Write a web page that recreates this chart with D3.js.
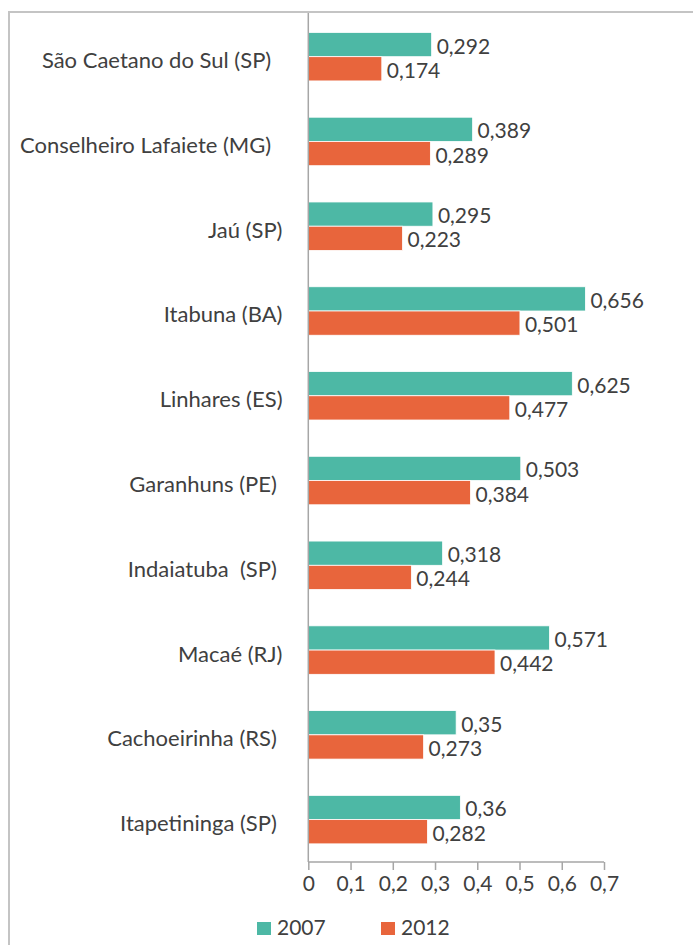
<!DOCTYPE html>
<html>
<head>
<meta charset="utf-8">
<script src="https://cdn.jsdelivr.net/npm/d3@7"></script>
<style>
  html, body { margin: 0; padding: 0; background: #fff; }
  svg { display: block; }
  text { font-family: Lato, "Open Sans", sans-serif; fill: #404040; }
</style>
</head>
<body>
<svg id="chart" width="693" height="945"></svg>
<script>
// ---- data ----
const categories = [
  "São Caetano do Sul (SP)  ",
  "Conselheiro Lafaiete (MG)  ",
  "Jaú (SP)",
  "Itabuna (BA)",
  "Linhares (ES)",
  "Garanhuns (PE) ",
  "Indaiatuba  (SP) ",
  "Macaé (RJ)",
  "Cachoeirinha (RS) ",
  "Itapetininga (SP) "
];
const series = ["2007", "2012"];
const values2007 = [0.292, 0.389, 0.295, 0.656, 0.625, 0.503, 0.318, 0.571, 0.35, 0.36];
const values2012 = [0.174, 0.289, 0.223, 0.501, 0.477, 0.384, 0.244, 0.442, 0.273, 0.282];
const xTicks = [0, 0.1, 0.2, 0.3, 0.4, 0.5, 0.6, 0.7];
const colors = { "2007": "#4db8a5", "2012": "#e8653c" };

const fmt = v => String(v).replace(".", ",");

const svg = d3.select("#chart");

// frame
svg.append("rect")
  .attr("x", 9).attr("y", 12).attr("width", 700).attr("height", 960)
  .attr("fill", "none").attr("stroke", "#c4c4c4").attr("stroke-width", 2);

const plotLeft = 308.3, plotRight = 604, plotTop = 14.3, plotBottom = 862;

const x = d3.scaleLinear().domain([0, 0.7]).range([plotLeft, plotRight]);
const y = d3.scaleBand().domain(categories).range([plotTop, plotBottom]).paddingInner(0.428).paddingOuter(0.214);
const ySub = d3.scaleBand().domain(series).range([0, y.bandwidth()]);

const rows = categories.map((c, i) => ({ cat: c, vals: [
  { s: "2007", v: values2007[i] },
  { s: "2012", v: values2012[i] }
]}));

const g = svg.append("g");
const groups = g.selectAll("g.row").data(rows).join("g")
  .attr("class", "row")
  .attr("transform", d => `translate(0,${y(d.cat)})`);

groups.selectAll("rect").data(d => d.vals).join("rect")
  .attr("x", x(0))
  .attr("y", d => ySub(d.s))
  .attr("width", d => x(d.v) - x(0))
  .attr("height", ySub.bandwidth())
  .attr("fill", d => colors[d.s])
  .attr("stroke", "#ffffff").attr("stroke-width", 0.8);

groups.selectAll("text.val").data(d => d.vals).join("text")
  .attr("class", "val")
  .attr("x", d => x(d.v) + 5)
  .attr("y", d => ySub(d.s) + ySub.bandwidth() / 2 + 9)
  .attr("font-size", 21)
  .text(d => fmt(d.v));

// category labels
g.selectAll("text.cat").data(categories).join("text")
  .attr("class", "cat")
  .attr("x", 282.5)
  .attr("y", d => y(d) + y.bandwidth() / 2 + 11.5)
  .attr("text-anchor", "end")
  .attr("font-size", 22)
  .attr("xml:space", "preserve")
  .style("white-space", "pre")
  .text(d => d);

// vertical category axis line
svg.append("line")
  .attr("x1", x(0)).attr("x2", x(0)).attr("y1", 13).attr("y2", plotBottom)
  .attr("stroke", "#a6a6a6").attr("stroke-width", 1.5);

// x axis
const xAxis = d3.axisBottom(x).tickValues(xTicks).tickSize(8).tickPadding(6)
  .tickFormat(d => d === 0 ? "0" : fmt(+d.toFixed(1)));
const ax = svg.append("g").attr("transform", `translate(0,${plotBottom})`).call(xAxis);
ax.select(".domain").attr("stroke", "#a6a6a6").attr("stroke-width", 1.5)
  .attr("d", `M${plotLeft},0H${plotRight}`);
ax.selectAll(".tick line").attr("stroke", "#a6a6a6").attr("stroke-width", 1.5);
ax.selectAll(".tick text").attr("font-size", 21).attr("fill", "#404040")
  .attr("font-family", "Lato, 'Open Sans', sans-serif");

// legend
const legendItems = [
  { s: "2007", x: 257 },
  { s: "2012", x: 381 }
];
const lg = svg.append("g").selectAll("g").data(legendItems).join("g")
  .attr("transform", d => `translate(${d.x},922)`);
lg.append("rect").attr("width", 14).attr("height", 13).attr("fill", d => colors[d.s]);
lg.append("text").attr("x", 20).attr("y", 12.5).attr("font-size", 21).text(d => d.s);
</script>
</body>
</html>
